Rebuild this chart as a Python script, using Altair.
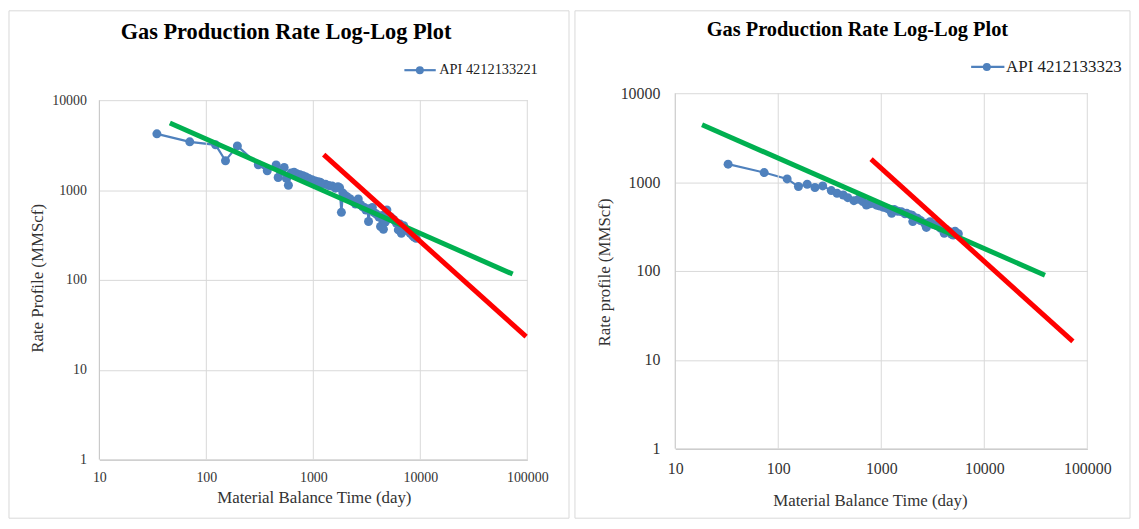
import altair as alt
import pandas as pd

# ---------------- data ----------------
# Left panel: API 4212133221
left_x = [34.5, 70, 122, 151, 195, 306, 371, 449, 469, 500, 534, 560, 585, 620, 661, 700, 751, 800,
          854, 910, 971, 1040, 1104, 1160, 1203, 1300, 1396, 1500, 1610, 1700, 1760, 1830, 1890, 1950,
          2050, 2200, 2333, 2480, 2630, 2750, 2890, 3000, 3100, 3214, 3280, 3400, 3560, 3700, 3890,
          4100, 4250, 4400, 4520, 4700, 4870, 5100, 5300, 5600, 5970, 6230, 6450, 6650, 7000, 7240,
          7700, 8050, 8500, 8770, 9130]
left_y = [4220, 3440, 3185, 2120, 3100, 1910, 1640, 1900, 1380, 1600, 1780, 1350, 1130, 1550, 1580,
          1520, 1480, 1440, 1400, 1340, 1300, 1260, 1240, 1220, 1180, 1160, 1120, 1110, 1050, 1090,
          1060, 565, 925, 880, 850, 800, 750, 700, 795, 690, 650, 640, 600, 610, 446, 620, 640, 560,
          540, 500, 393, 520, 366, 440, 600, 480, 500, 470, 430, 360, 420, 330, 400, 370, 350, 330,
          310, 300, 290]
left_green_x = [45.6, 73000]
left_green_y = [5570, 116]
left_red_x = [1250, 97500]
left_red_y = [2473, 23.4]

# Right panel: API 4212133323
right_x = [32.6, 73, 122, 157, 191, 227, 270, 327, 372, 427, 473, 542, 600, 662, 717, 770, 828, 900,
           971, 1050, 1137, 1200, 1262, 1334, 1450, 1566, 1700, 1766, 1900, 1991, 2022, 2100, 2245,
           2400, 2632, 2740, 2850, 2970, 3150, 3350, 3550, 3776, 4085, 4300, 4607, 4800, 4990, 5200,
           5405, 5600]
right_y = [1592, 1280, 1086, 891, 946, 869, 906, 802, 748, 716, 668, 618, 640, 603, 552, 570, 577,
           550, 538, 520, 506, 490, 445, 493, 470, 465, 440, 445, 430, 423, 359, 400, 391, 370, 344,
           309, 340, 359, 335, 329, 320, 301, 265, 290, 277, 260, 254, 280, 265, 262]
right_green_x = [18.2, 38800]
right_green_y = [4418, 89.6]
right_red_x = [796, 72400]
right_red_y = [1811, 16.1]

x_ticks = [10, 100, 1000, 10000, 100000]
y_ticks = [1, 10, 100, 1000, 10000]

TITLE = "Gas Production Rate Log-Log Plot"
X_TITLE = "Material Balance Time (day)"

BLUE = "#4F81BD"
GREEN = "#00B050"
RED = "#FF0000"
GRID = "#D9D9D9"
AXIS = "#BFBFBF"
SERIF = "Liberation Serif"
ONE = alt.Data(values=[{}])


def panel(sx, sy, gx, gy, rx, ry, W, H, ymax, frame, ttl, leg, label, ytitle, ax):
    xs = alt.Scale(type="log", domain=[10, 100000], nice=False)
    ys = alt.Scale(type="log", domain=[1, ymax], nice=False)
    xaxis = alt.Axis(values=x_ticks, format="d", grid=False, domainColor=AXIS,
                     ticks=False, tickSize=0, labelFont=SERIF, labelFontSize=ax["lfs"], labelColor="#333333",
                     labelPadding=ax["xpad"], labelBaseline="middle", labelFlush=False, labelOverlap=False,
                     title=X_TITLE, titleFont=SERIF, titleFontSize=17, titleFontWeight="normal",
                     titleColor="#333333", titleX=ax["xtx"], titleY=ax["xty"], titleBaseline="middle",
                     titleAlign="center")
    yaxis = alt.Axis(values=y_ticks, format="d", grid=True, gridColor=GRID, domain=False,
                     ticks=False, tickSize=0, labelFont=SERIF, labelFontSize=ax["lfs"], labelColor="#333333",
                     labelPadding=ax["ypad"], labelFlush=False, labelOverlap=False,
                     title=ytitle, titleFont=SERIF, titleFontSize=17, titleFontWeight="normal",
                     titleColor="#333333", titleX=ax["ytx"], titleY=ax["yty"], titleBaseline="middle",
                     titleAlign="center", titleAngle=270)

    series = pd.DataFrame({"x": sx, "y": sy, "i": list(range(len(sx)))})
    green = pd.DataFrame({"x": gx, "y": gy})
    red = pd.DataFrame({"x": rx, "y": ry})
    vgrid = pd.DataFrame({"x": x_ticks[1:], "y": [y_ticks[0]] * 4, "y2": [y_ticks[-1]] * 4})
    yline = pd.DataFrame({"x": [x_ticks[0]], "y": [y_ticks[0]], "y2": [y_ticks[-1]]})

    frame_l = alt.Chart(ONE).mark_rect(fillOpacity=0, stroke=GRID, strokeWidth=1).encode(
        x=alt.value(frame[0]), x2=alt.value(frame[1]), y=alt.value(frame[2]), y2=alt.value(frame[3]))

    grid_l = alt.Chart(vgrid).mark_rule(color=GRID, strokeWidth=1).encode(
        x=alt.X("x:Q", scale=xs), y=alt.Y("y:Q", scale=ys), y2="y2:Q")
    yline_l = alt.Chart(yline).mark_rule(color=AXIS, strokeWidth=1).encode(
        x=alt.X("x:Q", scale=xs), y=alt.Y("y:Q", scale=ys), y2="y2:Q")

    line = alt.Chart(series).mark_line(color=BLUE, strokeWidth=2.2).encode(
        x=alt.X("x:Q", scale=xs, axis=xaxis), y=alt.Y("y:Q", scale=ys, axis=yaxis), order="i:Q")
    pts = alt.Chart(series).mark_circle(color=BLUE, size=82, opacity=1).encode(
        x=alt.X("x:Q", scale=xs), y=alt.Y("y:Q", scale=ys))
    gl = alt.Chart(green).mark_line(color=GREEN, strokeWidth=5).encode(
        x=alt.X("x:Q", scale=xs), y=alt.Y("y:Q", scale=ys))
    rl = alt.Chart(red).mark_line(color=RED, strokeWidth=5).encode(
        x=alt.X("x:Q", scale=xs), y=alt.Y("y:Q", scale=ys))

    title = alt.Chart(ONE).mark_text(text=TITLE, font=SERIF, fontSize=ttl[2], fontWeight="bold",
                                     color="#000000", align="center", baseline="alphabetic").encode(
        x=alt.value(ttl[0]), y=alt.value(ttl[1]))

    leg_rule = alt.Chart(ONE).mark_rule(color=BLUE, strokeWidth=2.2).encode(
        x=alt.value(leg[0]), x2=alt.value(leg[1]), y=alt.value(leg[3]))
    leg_pt = alt.Chart(ONE).mark_circle(color=BLUE, size=64, opacity=1).encode(
        x=alt.value(leg[2]), y=alt.value(leg[3]))
    leg_txt = alt.Chart(ONE).mark_text(text=label, font=SERIF, fontSize=leg[5], color="#222222",
                                       align="left", baseline="middle").encode(
        x=alt.value(leg[4]), y=alt.value(leg[3]))

    return alt.layer(frame_l, line, grid_l, yline_l, pts, gl, rl, title, leg_rule, leg_pt,
                     leg_txt).properties(width=W, height=H)


# left plot area starts 7px above its 10000 line so both panels share one top edge
left = panel(left_x, left_y, left_green_x, left_green_y, left_red_x, left_red_y,
             431, 369, 11951, (-91, 473, -83, 428), (188, -55, 22.5),
             (307.2, 338.8, 322.8, -23.2, 342.2, 14.5), "API 4212133221", "Rate Profile (MMScf)",
             {"lfs": 14, "xpad": 18, "ypad": 13, "xtx": 216, "xty": 38.5, "ytx": -62, "yty": 186})

right = panel(right_x, right_y, right_green_x, right_green_y, right_red_x, right_red_y,
              415, 358, 10000, (-101, 458, -83, 428), (183.5, -57.5, 20.5),
              (298, 331.5, 313.8, -26.5, 333.2, 17), "API 4212133323", "Rate profile (MMScf)",
              {"lfs": 16, "xpad": 20, "ypad": 15.5, "xtx": 196, "xty": 52.5, "ytx": -71.7, "yty": 180})

chart = alt.hconcat(left, right, spacing=4).properties(padding=0).configure_view(strokeWidth=0)

chart.save("out.html", embed_options={"renderer": "svg", "actions": False})
